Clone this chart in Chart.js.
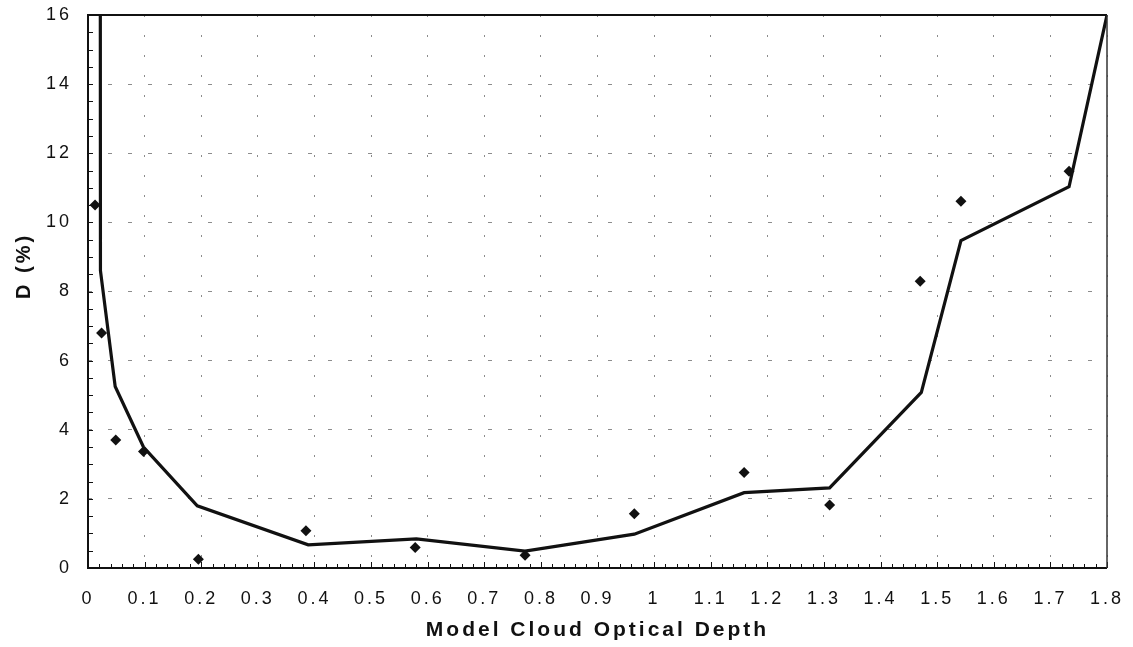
<!DOCTYPE html>
<html>
<head>
<meta charset="utf-8">
<script src="https://cdn.jsdelivr.net/npm/chart.js@4.4.1/dist/chart.umd.min.js"></script>
<style>
  html, body { margin: 0; padding: 0; background: #fff; }
  canvas { display: block; }
</style>
</head>
<body>
<canvas id="chart" width="1133" height="647"></canvas>
<script>
// Measured departures D (%) against model cloud optical depth
const obsDepth = [0.0125, 0.024, 0.049, 0.098, 0.195, 0.385, 0.578, 0.772, 0.965, 1.159, 1.31, 1.47, 1.542, 1.733];
const obsD     = [10.5, 6.8, 3.7, 3.37, 0.25, 1.08, 0.59, 0.37, 1.57, 2.76, 1.82, 8.3, 10.61, 11.48];

// Model curve
const modelDepth = [0.021, 0.022, 0.048, 0.098, 0.193, 0.389, 0.58, 0.772, 0.965, 1.159, 1.31, 1.472, 1.542, 1.733, 1.8];
const modelD     = [40, 8.6, 5.25, 3.5, 1.8, 0.67, 0.84, 0.49, 0.98, 2.18, 2.32, 5.08, 9.47, 11.03, 16];

// Axis tick labels
const xTickLabels = ['0', '0.1', '0.2', '0.3', '0.4', '0.5', '0.6', '0.7', '0.8', '0.9',
                     '1', '1.1', '1.2', '1.3', '1.4', '1.5', '1.6', '1.7', '1.8'];
const yTickLabels = ['0', '2', '4', '6', '8', '10', '12', '14', '16'];

const INK = '#111';
const GRID = '#8c8c8c';
const FONT = "'Liberation Sans', Arial, Helvetica, sans-serif";

const toPoints = (xs, ys) => xs.map((x, i) => ({ x, y: ys[i] }));

// Wide letter spacing for all text, inward minor ticks and the plot frame
const framePlugin = {
  id: 'frame',
  beforeDraw(chart) {
    chart.ctx.letterSpacing = '3px';
  },
  afterDraw(chart) {
    const { ctx, chartArea: a, scales: { x, y } } = chart;
    ctx.save();
    ctx.letterSpacing = '0px';
    ctx.strokeStyle = INK;
    ctx.lineWidth = 1;
    ctx.beginPath();
    for (let i = 0; i <= 90; i++) {
      const px = Math.round(x.getPixelForValue(i * 0.02)) + 0.5;
      ctx.moveTo(px, a.bottom);
      ctx.lineTo(px, a.bottom - (i % 5 === 0 ? 6 : 4));
    }
    for (let j = 0; j <= 32; j++) {
      const py = Math.round(y.getPixelForValue(j * 0.5)) + 0.5;
      ctx.moveTo(a.left, py);
      ctx.lineTo(a.left + 5, py);
    }
    ctx.stroke();

    // top, left and bottom edges
    ctx.lineWidth = 2;
    ctx.strokeStyle = INK;
    ctx.beginPath();
    ctx.moveTo(a.right, a.top);
    ctx.lineTo(a.left, a.top);
    ctx.lineTo(a.left, a.bottom);
    ctx.lineTo(a.right, a.bottom);
    ctx.stroke();
    // right edge
    ctx.lineWidth = 1.5;
    ctx.strokeStyle = '#333';
    ctx.beginPath();
    ctx.moveTo(a.right, a.top);
    ctx.lineTo(a.right, a.bottom);
    ctx.stroke();
    ctx.restore();
    ctx.letterSpacing = '0px';
  }
};

new Chart(document.getElementById('chart'), {
  type: 'scatter',
  data: {
    datasets: [
      {
        label: 'Observed',
        data: toPoints(obsDepth, obsD),
        showLine: false,
        pointStyle: 'rectRot',
        pointRadius: 5.5,
        pointBackgroundColor: INK,
        pointBorderColor: INK,
        pointBorderWidth: 0
      },
      {
        label: 'Model',
        data: toPoints(modelDepth, modelD),
        showLine: true,
        borderColor: INK,
        borderWidth: 3.2,
        pointRadius: 0,
        tension: 0,
        borderJoinStyle: 'miter'
      }
    ]
  },
  options: {
    responsive: false,
    animation: false,
    devicePixelRatio: 1,
    layout: { padding: { left: 0, top: 15, right: 26, bottom: 0 } },
    plugins: {
      legend: { display: false },
      tooltip: { enabled: false }
    },
    scales: {
      x: {
        type: 'linear',
        min: 0,
        max: 1.8,
        afterFit(scale) {
          scale.height = 79;
          scale.paddingLeft = 0;
          scale.paddingRight = 0;
        },
        grid: {
          color: GRID,
          lineWidth: 1,
          drawTicks: false
        },
        border: { display: false, dash: [2, 18] },
        ticks: {
          stepSize: 0.1,
          autoSkip: false,
          maxRotation: 0,
          padding: 20,
          color: INK,
          font: { family: FONT, size: 18 },
          callback: (value, index) => xTickLabels[index]
        },
        title: {
          display: true,
          text: 'Model Cloud Optical Depth',
          color: INK,
          font: { family: FONT, size: 21, weight: 'bold' },
          padding: { top: 0, bottom: 4 }
        }
      },
      y: {
        type: 'linear',
        min: 0,
        max: 16,
        afterFit(scale) {
          scale.width = 88;
          scale.paddingTop = 0;
          scale.paddingBottom = 0;
        },
        grid: {
          color: GRID,
          lineWidth: 1,
          drawTicks: false
        },
        border: { display: false, dash: [4, 16] },
        ticks: {
          stepSize: 2,
          padding: 16,
          color: INK,
          font: { family: FONT, size: 18 },
          callback: (value, index) => yTickLabels[index]
        },
        title: {
          display: true,
          text: '      D (%)',
          color: INK,
          font: { family: FONT, size: 20, weight: 'bold' },
          padding: { top: 12, bottom: 0 }
        }
      }
    }
  },
  plugins: [framePlugin]
});
</script>
</body>
</html>
